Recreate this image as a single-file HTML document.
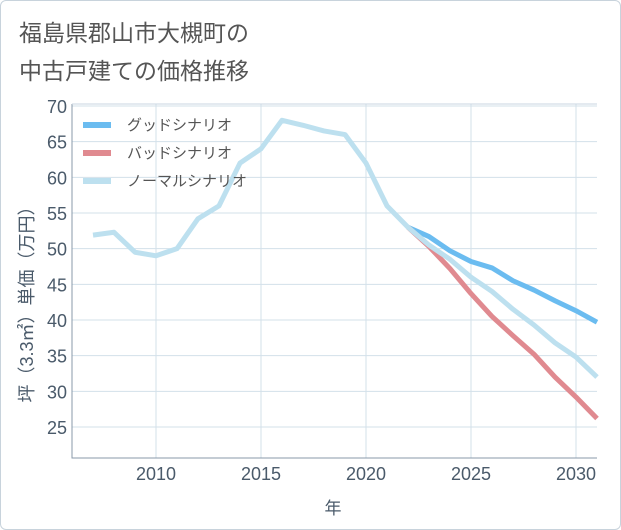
<!DOCTYPE html>
<html><head><meta charset="utf-8"><style>
body{margin:0;background:#fff}
#wrap{position:relative;width:619px;height:528px;border:1px solid #c8d3dc;border-radius:6px;background:#fff;font-family:"Liberation Sans","Noto Sans CJK JP",sans-serif;overflow:hidden}
#title{position:absolute;left:18px;top:13px;font-size:23px;line-height:38px;color:#555;}
</style></head><body>
<div id="wrap">
<div id="title">福島県郡山市大槻町の<br>中古戸建ての価格推移</div>
<svg id="chart" width="621" height="530" style="position:absolute;left:-1px;top:-1px"></svg>
</div>
<script>
const years=[2007,2008,2009,2010,2011,2012,2013,2014,2015,2016,2017,2018,2019,2020,2021,2022,2023,2024,2025,2026,2027,2028,2029,2030,2031];
const normalVals=[51.9,52.3,49.5,49,50,54.2,56,62,64,68,67.3,66.5,66,62,56,53,50.5,48.5,46,44,41.5,39.3,36.8,34.8,32];
const goodYears=[2022,2023,2024,2025,2026,2027,2028,2029,2030,2031];
const goodVals=[53,51.7,49.7,48.2,47.3,45.5,44.2,42.7,41.3,39.7];
const badVals=[53,50.3,47.2,43.7,40.5,37.8,35.2,32,29.2,26.2];
const yTicks=[25,30,35,40,45,50,55,60,65,70];
const xTicks=[2010,2015,2020,2025,2030];
const NS="http://www.w3.org/2000/svg";
const svg=document.getElementById('chart');
const L=72,R=597,T=104,B=458;
const x=v=>156+(v-2010)*21;
const y=v=>427-(v-25)*(321/45);
function mk(tag,attrs,parent){const e=document.createElementNS(NS,tag);for(const k in attrs)e.setAttribute(k,attrs[k]);(parent||svg).appendChild(e);return e;}
mk('rect',{x:L,y:T,width:R-L,height:B-T,fill:'#fff',stroke:'none'});
yTicks.forEach(t=>{
 const g=mk('line',{x1:L,x2:R,y1:y(t),y2:y(t),stroke:'#d3e0ea','stroke-width':1});
 
 
 const tx=mk('text',{x:L-5,y:y(t)+7,'text-anchor':'end','font-size':18,fill:'#4a5a6a','font-family':'Liberation Sans, sans-serif'});
 tx.textContent=t;
 
 
});
xTicks.forEach(t=>{
 const g=mk('line',{x1:x(t),x2:x(t),y1:T,y2:B,stroke:'#d3e0ea','stroke-width':1});
 
 
 const tx=mk('text',{x:x(t),y:B+22,'text-anchor':'middle','font-size':18,fill:'#4a5a6a','font-family':'Liberation Sans, sans-serif'});
 tx.textContent=t;
 
 
});
const ax=mk('path',{d:`M${L},${T}V${B}H${R}`,fill:'none',stroke:'#8899aa','stroke-width':1});


const tp=mk('line',{x1:L,x2:R,y1:T,y2:T,stroke:'#c8d6e2','stroke-width':1});


function line(xs,vs,color,name){
 const d=xs.map((v,i)=>(i?'L':'M')+x(v)+','+y(vs[i])).join('');
 const p=mk('path',{d:d,fill:'none',stroke:color,'stroke-width':5,'stroke-linejoin':'round','stroke-linecap':'butt'});
 
 
}
line(goodYears,goodVals,'#6bbcf0','good-scenario-line');
line(goodYears,badVals,'#e08a90','bad-scenario-line');
line(years,normalVals,'#bde0ef','normal-scenario-line');
const leg=[['グッドシナリオ','#6bbcf0'],['バッドシナリオ','#e08a90'],['ノーマルシナリオ','#bde0ef']];
leg.forEach((l,i)=>{
 const yy=125+i*28;
 const s=mk('line',{x1:83,x2:111,y1:yy,y2:yy,stroke:l[1],'stroke-width':6});
 
 
 const t=mk('text',{x:127,y:yy+5,'font-size':15,fill:'#555','font-family':'Liberation Sans, Noto Sans CJK JP, sans-serif'});
 t.textContent=l[0];
 
 
});
const yt=mk('text',{transform:'translate(33,300) rotate(-90)','text-anchor':'middle','font-size':18,fill:'#4a5a6a','font-family':'Liberation Sans, Noto Sans CJK JP, sans-serif'});
yt.textContent='坪（3.3㎡）単価（万円）';


const xt=mk('text',{x:333,y:514,'text-anchor':'middle','font-size':17,fill:'#4a5a6a','font-family':'Liberation Sans, Noto Sans CJK JP, sans-serif'});
xt.textContent='年';


</script>
</body></html>
